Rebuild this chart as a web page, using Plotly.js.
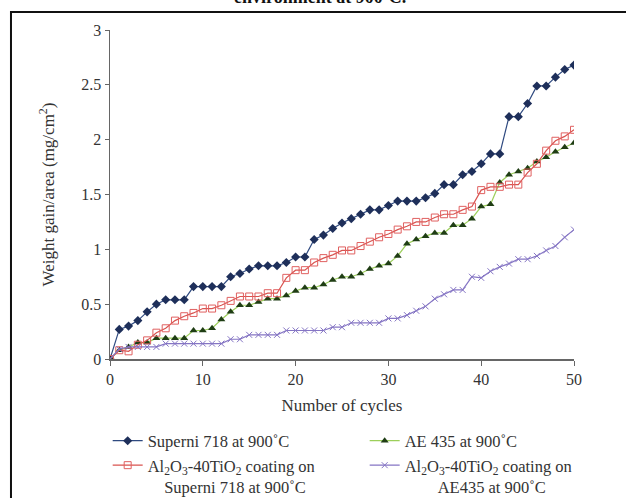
<!DOCTYPE html>
<html>
<head>
<meta charset="utf-8">
<script src="https://cdn.plot.ly/plotly-3.0.1.min.js"></script>
<style>html,body{margin:0;padding:0;background:#fff;}#chart{width:626px;height:498px;}</style>
</head>
<body>
<div id="chart"></div>
<script>
const cycles = [0,1,2,3,4,5,6,7,8,9,10,11,12,13,14,15,16,17,18,19,20,21,22,23,24,25,26,27,28,29,30,31,32,33,34,35,36,37,38,39,40,41,42,43,44,45,46,47,48,49,50];
const superni718 = [0,0.27,0.30,0.35,0.43,0.50,0.54,0.54,0.54,0.66,0.66,0.66,0.66,0.75,0.78,0.82,0.85,0.85,0.85,0.88,0.93,0.93,1.09,1.13,1.19,1.24,1.28,1.32,1.36,1.36,1.40,1.44,1.44,1.44,1.47,1.51,1.59,1.59,1.68,1.71,1.78,1.87,1.87,2.21,2.21,2.33,2.49,2.49,2.57,2.64,2.68];
const ae435 = [0,0.08,0.11,0.15,0.15,0.19,0.19,0.19,0.19,0.26,0.26,0.28,0.36,0.43,0.49,0.49,0.52,0.55,0.55,0.58,0.62,0.65,0.65,0.68,0.72,0.75,0.75,0.78,0.82,0.85,0.87,0.94,1.05,1.09,1.12,1.15,1.15,1.22,1.22,1.28,1.39,1.41,1.61,1.68,1.71,1.74,1.80,1.84,1.89,1.93,1.97];
const coatSuperni = [0,0.08,0.07,0.13,0.17,0.24,0.28,0.35,0.39,0.42,0.46,0.46,0.49,0.53,0.57,0.57,0.57,0.60,0.60,0.74,0.81,0.81,0.88,0.92,0.95,0.99,0.99,1.03,1.07,1.11,1.14,1.18,1.21,1.25,1.25,1.29,1.32,1.32,1.36,1.39,1.54,1.57,1.57,1.59,1.59,1.70,1.78,1.90,1.99,2.03,2.09];
const coatAE435 = [0,0.09,0.11,0.11,0.11,0.11,0.14,0.14,0.14,0.14,0.14,0.14,0.14,0.18,0.18,0.22,0.22,0.22,0.22,0.26,0.26,0.26,0.26,0.26,0.29,0.29,0.33,0.33,0.33,0.33,0.37,0.37,0.40,0.44,0.48,0.55,0.59,0.63,0.63,0.75,0.74,0.80,0.84,0.87,0.91,0.91,0.94,0.99,1.03,1.11,1.18];
const names = [
  "Superni 718 at 900˚C",
  "AE 435 at 900˚C",
  "Al<sub>2</sub>O<sub>3</sub>-40TiO<sub>2</sub> coating on<br>\u00A0\u00A0\u00A0\u00A0Superni 718 at 900˚C",
  "Al<sub>2</sub>O<sub>3</sub>-40TiO<sub>2</sub> coating on<br>\u00A0\u00A0\u00A0\u00A0\u00A0\u00A0\u00A0\u00A0AE435 at 900˚C"
];
const xTicks = [0,10,20,30,40,50];
const yTicks = [0,0.5,1,1.5,2,2.5,3];
const yTickText = ["0","0.5","1","1.5","2","2.5","3"];

const font = "Liberation Serif, Times New Roman, serif";
const traces = [
  {x: cycles, y: superni718, name: names[0], mode: "lines+markers",
   line: {color: "#2f4a80", width: 1.2}, marker: {symbol: "diamond", size: 7, color: "#1e2f5a"}},
  {x: cycles, y: ae435, name: names[1], mode: "lines+markers",
   line: {color: "#9ccf5a", width: 1.2}, marker: {symbol: "triangle-up", size: 7, color: "#1f3d14"}},
  {x: cycles, y: coatSuperni, name: names[2], mode: "lines+markers",
   line: {color: "#d9534f", width: 1.2}, marker: {symbol: "square-open", size: 7, color: "#e06060", line: {width: 1}}},
  {x: cycles, y: coatAE435, name: names[3], mode: "lines+markers",
   line: {color: "#8575c4", width: 1.2}, marker: {symbol: "x-thin-open", size: 6, color: "#8575c4", line: {width: 1, color: "#8575c4"}}}
];

const layout = {
  width: 626, height: 498,
  margin: {l: 110, r: 52, t: 30, b: 139, autoexpand: false},
  paper_bgcolor: "#fff", plot_bgcolor: "#fff",
  font: {family: font, size: 16, color: "#333"},
  showlegend: true,
  legend: {orientation: "h", x: -0.005, xanchor: "left", y: -0.196, yanchor: "top",
    entrywidth: 212, entrywidthmode: "pixels", traceorder: "normal", valign: "top",
    font: {family: font, size: 16.5, color: "#333"}, bgcolor: "rgba(0,0,0,0)", tracegroupgap: 0, itemwidth: 30},
  xaxis: {range: [0, 50], tickvals: xTicks, ticks: "outside", ticklen: 5, tickcolor: "#666",
    showline: true, linecolor: "#666", linewidth: 1.5, showgrid: false, zeroline: false, automargin: true,
    tickfont: {family: font, size: 16, color: "#333"},
    title: {text: "Number of cycles", font: {family: font, size: 17, color: "#333"}, standoff: 12}},
  yaxis: {range: [0, 3], tickvals: yTicks, ticktext: yTickText, ticks: "outside", ticklen: 4, tickcolor: "#666",
    showline: true, linecolor: "#666", linewidth: 1.5, showgrid: false, zeroline: false, automargin: true,
    tickfont: {family: font, size: 16, color: "#333"},
    title: {text: "Weight gain/area (mg/cm<sup>2</sup>)", font: {family: font, size: 17, color: "#333"}, standoff: 22}},
  shapes: [
    {type: "rect", xref: "paper", yref: "paper", x0: -0.2134, x1: 1.3, y0: -0.6, y1: 1.0547,
     line: {color: "#111", width: 2}, fillcolor: "rgba(0,0,0,0)", layer: "below"}
  ],
  annotations: [
    {xref: "paper", yref: "paper", x: 0.4526, y: 1.10, xanchor: "center", yanchor: "middle",
     text: "<b>environment at 900˚C.</b>", showarrow: false, font: {family: font, size: 18, color: "#111"}}
  ]
};

Plotly.newPlot("chart", traces, layout, {displayModeBar: false, staticPlot: true});
</script>
</body>
</html>
